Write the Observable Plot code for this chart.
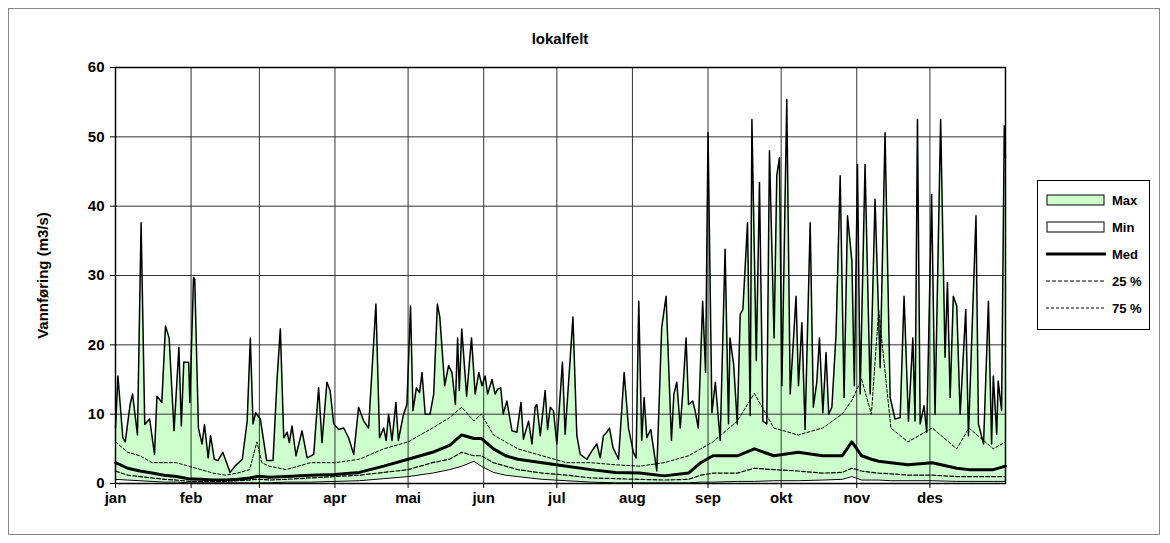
<!DOCTYPE html>
<html><head><meta charset="utf-8">
<script src="https://cdn.jsdelivr.net/npm/d3@7"></script>
<script src="https://cdn.jsdelivr.net/npm/@observablehq/plot@0.6"></script>
<style>
body{margin:0;background:#fff;font-family:"Liberation Sans",Arial,sans-serif;}
#wrap{position:relative;width:1170px;height:543px;}
#border{position:absolute;left:8px;top:8px;width:1152px;height:527px;border:1px solid #888;box-sizing:border-box;}
#title{position:absolute;left:0;width:1120px;top:30px;text-align:center;font-weight:bold;font-size:15px;}
#chart{position:absolute;left:0;top:0;}
#legend{position:absolute;left:1037px;top:180px;width:113px;height:150px;border:1px solid #000;box-sizing:border-box;font-weight:bold;font-size:13px;}
.row{position:absolute;left:8px;height:16px;display:flex;align-items:center;}
.row span{margin-left:6px;}
</style></head><body>
<div id="wrap"><div id="border"></div><div id="chart"></div><div id="title">lokalfelt</div>
<div id="legend">
<div class="row" style="top:11px"><svg width="60" height="14"><rect x="1" y="2" width="57" height="10" fill="#ccffcc" stroke="#000"/></svg><span>Max</span></div>
<div class="row" style="top:38px"><svg width="60" height="14"><rect x="1" y="2" width="57" height="10" fill="#fff" stroke="#000"/></svg><span>Min</span></div>
<div class="row" style="top:65px"><svg width="60" height="14"><line x1="0" x2="60" y1="7" y2="7" stroke="#000" stroke-width="3"/></svg><span>Med</span></div>
<div class="row" style="top:92px"><svg width="60" height="14"><line x1="0" x2="60" y1="7" y2="7" stroke="#000" stroke-width="1.2" stroke-dasharray="4,2"/></svg><span>25 %</span></div>
<div class="row" style="top:119px"><svg width="60" height="14"><line x1="0" x2="60" y1="7" y2="7" stroke="#000" stroke-width="1" stroke-dasharray="3,2"/></svg><span>75 %</span></div>
</div></div>
<script>
const monthStarts=[0,31,59,90,120,151,181,212,243,273,304,334];
const monthLabels=["jan","feb","mar","apr","mai","jun","jul","aug","sep","okt","nov","des"];
const yTicks=[0,10,20,30,40,50,60];
const maxDays=[0,1,3,4,6,7,9,10.5,12,14,16,17,19,20.5,22,24,26,27,28,30,30.5,32,32.5,34,35.5,36.5,38,39,40.5,42,44,47,49,52,54,55.3,56.4,57.5,59.4,62,64.6,66.3,67.6,69,70.4,71.3,72.4,74,76.5,78.6,81.3,83.3,84.7,86.7,88,89.5,91.5,93.6,95.6,97.7,99.7,101.8,103.8,106.8,108.3,110,111,112,113.4,115,116,118,119.5,121,122,123.4,124.7,125.7,127,129,130.5,132,133,135,136.6,138,139.4,140.3,141,142,144,146,147.5,149,150.3,151.6,152.6,154.4,155.7,156.7,158,159,160.5,162.6,164.6,166.3,167.3,169.4,170.8,172.1,172.8,174.2,176.2,177.2,178.3,179.6,181,183.3,184.4,187.6,189.2,190.6,193.3,195.4,197.4,198.8,200.1,201.5,202.6,204,206.3,208.6,210.4,212.4,213.5,214.6,215.8,216.8,217.9,219.5,222,224,225.8,228,229,230.2,231.6,232.6,234,235,236.7,237.7,239,240.8,242,243,244.6,246,248,250,251.4,252,253.5,255,256.2,257.3,259.2,260.3,261,262.8,264.1,265.5,267.1,268.2,270.1,271.2,272.3,273.3,275.3,276.7,279.1,280.1,281.5,282.8,284.9,286.2,287.6,288.7,290.1,291.4,292.5,293.8,295.5,297.2,298.8,300.2,302,303,304.3,305.4,307.4,309.5,311.5,313.6,315.6,317.7,319.7,321.8,323.4,325.2,327,327.9,328.9,330,331.6,332.7,334.7,336.1,338.4,340.2,341.2,342.3,343.6,345,346.4,348.7,349.8,352.9,353.9,356,358,359.3,360,361.4,362,363.4,364.5,365];
const maxVals=[8,15.5,6.6,6,11.4,12.9,7,37.6,8.5,9.3,4.2,12.6,11.7,22.7,21,7.6,19.6,8.3,17.5,17.5,11.7,29.7,29.5,8,5.7,8.5,3.7,6.9,3.5,3.3,4.5,1.6,2.5,3.5,9,21,8.6,10.2,9.3,3.3,3.3,15.3,22.3,6.6,7.4,5.9,8.3,4,7.6,3.7,4.2,13.8,5.9,14.6,13.4,8.6,7.8,8,6.6,4.2,11,9,8,25.9,6.6,8,6.2,10,6.2,11.7,6.2,9.8,11.4,25.6,10.5,13.8,13.1,16,10,10,12.9,25.9,24,14.1,17,16,11.4,21,13.4,22.3,12.6,21,12.9,16,14.1,15.5,12.9,15,12.9,13.6,13.8,10,11.9,7.6,7.4,11.7,6.4,9,5.7,11,11.4,6.9,13.4,7.8,11,10.5,5.7,17.5,7.1,24,6.9,4.2,3.5,4.7,5.7,3.7,6.9,7.4,8,5.2,3.5,16,8,4.5,3.7,26.3,6.2,12.4,6.6,7.8,1.8,22.5,27,6.2,12.9,14.6,8,12.9,21,11.4,11.9,10.5,8,26.3,16,50.6,10.2,14.6,6.2,33.8,8.6,21,17.2,8.6,24.4,25.1,37.6,9.8,52.5,17.7,43.4,9,8.6,48,21,44.4,47,14.1,55.4,12.9,27,14.1,23.2,7.8,37.6,11,14.6,21,10.2,18.9,10,11,21.5,44.4,12.4,38.6,32.1,14.1,46,12.9,46,12.9,41,16.7,50.6,12.4,9.3,9.5,27,9,21,9,52.5,8.6,11.2,7.4,41.7,10,52.5,18.2,29,12.4,27,25.6,10,25.1,6.9,38.6,8.6,5.7,26.3,5.7,15.5,7.1,14.8,10.5,51.6,47];
const statDays=[0,5,10,15,20,25,30,35,40,45,50,55,58,60,63,70,80,90,100,110,120,130,137,142,147,150,155,160,165,175,185,195,205,215,225,235,240,245,255,262,270,280,290,298,302,306,310,313,318,325,335,345,350,360,365];
const medVals=[3,2.2,1.8,1.5,1.2,1,0.7,0.6,0.5,0.5,0.6,0.8,1,1,0.9,1,1.2,1.3,1.6,2.5,3.5,4.5,5.5,7,6.5,6.5,5,4,3.5,3,2.5,2,1.6,1.5,1.1,1.5,3,4,4,5,4,4.5,4,4,6,4,3.5,3.2,3,2.7,3,2.2,2,2,2.5];
const minVals=[0.6,0.5,0.4,0.3,0.2,0.2,0.1,0.1,0.1,0.1,0.1,0.1,0.1,0.1,0.1,0.2,0.2,0.3,0.4,0.7,1,1.5,2,2.5,3.2,2.5,1.6,1.2,1,0.6,0.4,0.2,0.1,0.1,0.1,0.1,0.2,0.2,0.3,0.3,0.4,0.4,0.5,0.6,1,0.5,0.5,0.5,0.4,0.4,0.4,0.3,0.3,0.3,0.3];
const p25Vals=[1.8,1.2,1,0.8,0.6,0.5,0.3,0.3,0.3,0.3,0.4,0.5,0.6,0.6,0.5,0.6,0.8,1,1.2,1.6,2,3,3.5,4.5,4,4,3,2.5,2,1.5,1.2,0.8,0.7,0.6,0.5,0.6,1.2,1.5,1.5,2.2,2,1.8,1.5,1.6,2.2,1.8,1.6,1.5,1.4,1.2,1.2,1,1,1,1];
const p75Vals=[6,4.5,4,3,3,3,2.5,2,1.5,1.2,1.5,2,6,3,2.5,2,3,3,3.5,5,6,8,9.5,11,9,10,7,6,5,4,3,3,2.7,2.5,3,4,5,6,9,13,8,7,8,10,12,15,10,25,8,6,8,5,8,5,6];
const maxData=maxDays.map((d,i)=>({d,v:maxVals[i]}));
const stat=statDays.map((d,i)=>({d,med:medVals[i],min:minVals[i],p25:p25Vals[i],p75:p75Vals[i]}));
const font='"Liberation Sans",Arial,sans-serif';
const chart=Plot.plot({
  width:1170,height:543,marginLeft:115,marginRight:165,marginTop:67,marginBottom:60,
  style:{fontFamily:font,fontSize:"15px",fontWeight:"bold",background:"transparent",color:"#000"},
  x:{domain:[0,365],ticks:monthStarts,tickFormat:d=>monthLabels[monthStarts.indexOf(d)],tickSize:5,tickPadding:4,label:null},
  y:{domain:[0,60],ticks:yTicks,tickSize:5,tickPadding:6,label:"Vannføring (m3/s)",labelAnchor:"center",labelArrow:"none",labelOffset:78},
  marks:[
    Plot.areaY(maxData,{x:"d",y:"v",fill:"#ccffcc"}),
    Plot.areaY(stat,{x:"d",y:"min",fill:"#fff"}),
    Plot.ruleX(monthStarts,{stroke:"#333",strokeWidth:1}),
    Plot.ruleY(yTicks,{stroke:"#333",strokeWidth:1}),
    Plot.lineY(stat,{x:"d",y:"p75",stroke:"#000",strokeWidth:1,strokeDasharray:"3,2"}),
    Plot.lineY(stat,{x:"d",y:"p25",stroke:"#000",strokeWidth:1.2,strokeDasharray:"4,2"}),
    Plot.lineY(stat,{x:"d",y:"min",stroke:"#000",strokeWidth:1}),
    Plot.lineY(stat,{x:"d",y:"med",stroke:"#000",strokeWidth:3}),
    Plot.lineY(maxData,{x:"d",y:"v",stroke:"#000",strokeWidth:1.5}),
    Plot.frame({stroke:"#000",strokeWidth:1.5})
  ]
});
document.getElementById("chart").appendChild(chart);
</script></body></html>
